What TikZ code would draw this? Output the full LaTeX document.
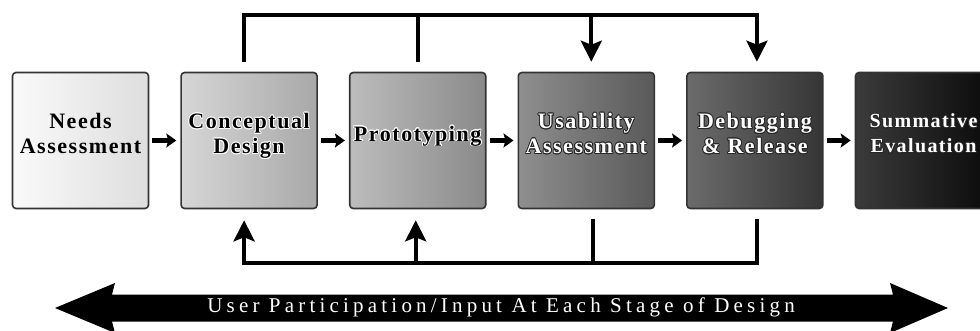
\documentclass[tikz,border=0pt]{standalone}
\usepackage{fontspec}
\setmainfont{Liberation Serif}
\newfontfamily\stagefont[LetterSpace=7]{Liberation Serif}
\newfontfamily\bannerfont[LetterSpace=20]{Liberation Serif}
\usepackage{contour}
\usetikzlibrary{arrows.meta,positioning}

\contourlength{0.8pt}
\newcommand\lighttxt[1]{\contour{white}{#1}}
\newcommand\darktxt[1]{\textcolor{white}{\contour{black!85}{#1}}}

\begin{document}
\begin{tikzpicture}[x=1pt,y=-1pt,
    stage/.style={draw=black!80, line width=1.6pt, rounded corners=3.5pt,
      minimum width=136pt, minimum height=136pt, inner sep=0pt, align=center,
      font=\fontsize{22pt}{25pt}\selectfont\stagefont\bfseries,
      execute at end node={\rule[-14pt]{0pt}{14pt}}},
    flow/.style={line width=4.5pt, -{Stealth[length=10pt,width=14pt,inset=2pt]},
      shorten <=3pt, shorten >=4pt},
    bar/.style={line width=3.8pt},
    bartip/.style={bar, -{Stealth[length=21pt,width=21pt,inset=4pt]}},
    node distance=31pt]

    % 0. Rahmen des Bildes (980 x 331)
    \useasboundingbox (0,0) rectangle (980,331);

    % 1. Die sechs Phasen
    \node[stage, left color=black!2, right color=black!13] (needs) at (80.5,140.5)
      {Needs\\Assessment};
    \node[stage, left color=black!16, right color=black!34, right=of needs] (concept)
      {\lighttxt{Conceptual}\\\lighttxt{Design}};
    \node[stage, left color=black!26, right color=black!46, right=of concept] (proto)
      {\lighttxt{Prototyping}};
    \node[stage, left color=black!44, right color=black!65, right=of proto] (usab)
      {\darktxt{Usability}\\\darktxt{Assessment}};
    \node[stage, left color=black!58, right color=black!79, right=of usab] (debug)
      {\darktxt{Debugging}\\\darktxt{\& Release}};
    \node[stage, left color=black!77, right color=black!96, right=of debug,
      font=\fontsize{20pt}{25pt}\selectfont\stagefont\bfseries] (summ)
      {\darktxt{Summative}\\\darktxt{Evaluation}};

    % 2. Pfeile von Phase zu Phase
    \foreach \a/\b in {needs/concept, concept/proto, proto/usab, usab/debug, debug/summ}
      \draw[flow] (\a) -- (\b);

    % 3. Rueckkopplung oben und unten
    \coordinate (topline) at (0,15);
    \coordinate (botline) at (0,263);
    \draw[bartip] ([xshift=-5pt,yshift=10pt]concept.north) |- ([xshift=2pt]debug.north |- topline)
      -- ([xshift=2pt,yshift=10pt]debug.north);
    \draw[bar] ([yshift=10pt]proto.north) -- (proto.north |- topline);
    \draw[bartip] ([xshift=5pt]usab.north |- topline) -- ([xshift=5pt,yshift=10pt]usab.north);

    \draw[bartip] ([xshift=2pt,yshift=-10pt]debug.south) |- ([xshift=-5pt]concept.south |- botline)
      -- ([xshift=-5pt,yshift=-11pt]concept.south);
    \draw[bartip] ([xshift=-2pt]proto.south |- botline) -- ([xshift=-2pt,yshift=-11pt]proto.south);
    \draw[bar] ([xshift=7pt,yshift=-10pt]usab.south) -- ([xshift=7pt]usab.south |- botline);

    % 4. Doppelpfeil mit Beschriftung
    \fill (55,308) -- (115,283) -- (112,294.5) -- (893,294.5) -- (890,283) -- (948,308)
      -- (890,333) -- (893,321.5) -- (112,321.5) -- (115,333) -- cycle;
    \node[text=white, font=\fontsize{21pt}{24pt}\selectfont\bannerfont] (banner) at (501,307)
      {User Participation/Input At Each Stage of Design};

\end{tikzpicture}
\end{document}
